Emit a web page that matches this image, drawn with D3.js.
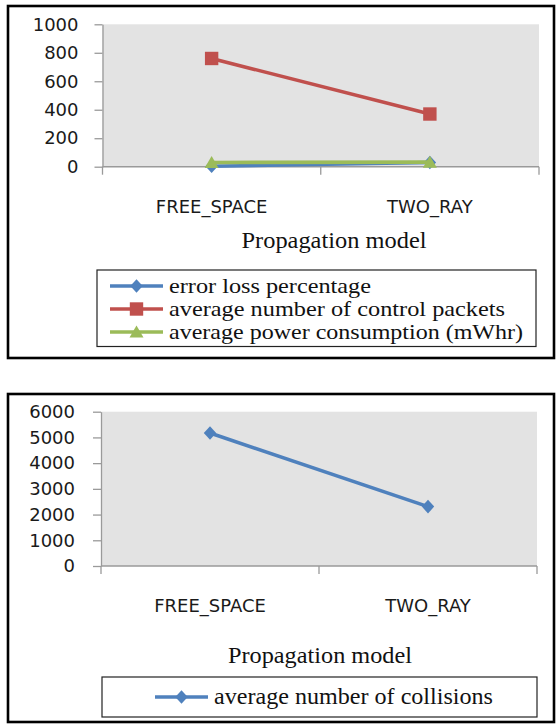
<!DOCTYPE html>
<html>
<head>
<meta charset="utf-8">
<script src="https://cdn.jsdelivr.net/npm/d3@7"></script>
<style>
  html, body { margin: 0; padding: 0; background: #fff; }
  svg { display: block; }
</style>
</head>
<body>
<svg id="chart" width="556" height="724"></svg>
<script>
// ---- data ----
const categories = ["FREE_SPACE", "TWO_RAY"];
const errorLoss = [3, 30];
const controlPackets = [760, 370];
const powerConsumption = [30, 32];
const collisions = [5170, 2310];
const yTicksTop = [0, 200, 400, 600, 800, 1000];
const yTicksBottom = [0, 1000, 2000, 3000, 4000, 5000, 6000];
const xAxisTitle = "Propagation model";
const seriesTopNames = ["error loss percentage", "average number of control packets", "average power consumption (mWhr)"];
const seriesBottomNames = ["average number of collisions"];

const colors = { blue: "#4f81bd", red: "#c0504d", green: "#9bbb59" };

const svg = d3.select("#chart");

// custom marker shapes
const diamond = { draw(ctx, size) { const w = 6.2, h = 6.8; ctx.moveTo(0, -h); ctx.lineTo(w, 0); ctx.lineTo(0, h); ctx.lineTo(-w, 0); ctx.closePath(); } };
const square = { draw(ctx, size) { const s = 6.7; ctx.rect(-s, -s, 2 * s, 2 * s); } };
const triangle = { draw(ctx, size) { const w = 7, h = 6.5; ctx.moveTo(0, -h); ctx.lineTo(w, h * 0.85); ctx.lineTo(-w, h * 0.85); ctx.closePath(); } };

function drawChart(cfg) {
  const g = svg.append("g");
  // outer frame
  g.append("rect").attr("x", cfg.box[0]).attr("y", cfg.box[1])
    .attr("width", cfg.box[2] - cfg.box[0]).attr("height", cfg.box[3] - cfg.box[1])
    .attr("fill", "none").attr("stroke", "#000").attr("stroke-width", 2.6);

  const x = d3.scaleBand().domain(categories).range([cfg.left, cfg.right]);
  const y = d3.scaleLinear().domain([0, cfg.yMax]).range([cfg.bottom, cfg.top]);

  // plot background
  g.append("rect").attr("x", cfg.left).attr("y", cfg.top)
    .attr("width", cfg.right - cfg.left).attr("height", cfg.bottom - cfg.top)
    .attr("fill", "#e3e3e3");

  // y axis
  const ya = g.append("g").attr("transform", `translate(${cfg.left},0)`)
    .call(d3.axisLeft(y).tickValues(cfg.yTicks).tickSize(8).tickSizeOuter(0).tickPadding(cfg.yPad).tickFormat(d3.format("d")));
  ya.selectAll("line, path").attr("stroke", "#9a9a9a").attr("stroke-width", 1.3);
  ya.selectAll("text").attr("font-family", "DejaVu Sans, sans-serif").attr("font-size", 18).attr("fill", "#1a1a1a");

  // x axis line + boundary ticks
  g.append("line").attr("x1", cfg.left).attr("x2", cfg.right).attr("y1", cfg.bottom).attr("y2", cfg.bottom)
    .attr("stroke", "#9a9a9a").attr("stroke-width", 1.6);
  const bounds = categories.map(c => x(c)).concat([x.range()[1]]);
  g.selectAll(".xb").data(bounds).enter().append("line")
    .attr("x1", d => d).attr("x2", d => d).attr("y1", cfg.bottom).attr("y2", cfg.bottom + 8)
    .attr("stroke", "#9a9a9a").attr("stroke-width", 1.3);
  g.selectAll(".xl").data(categories).enter().append("text")
    .attr("x", d => x(d) + x.bandwidth() / 2).attr("y", cfg.xLabelY)
    .attr("text-anchor", "middle")
    .attr("font-family", "DejaVu Sans, sans-serif").attr("font-size", 18).attr("fill", "#1a1a1a")
    .text(d => d);

  // axis title
  g.append("text").attr("x", cfg.titleX).attr("y", cfg.titleY).attr("text-anchor", "middle")
    .attr("font-family", "Liberation Serif, Times New Roman, serif").attr("font-size", 23).attr("fill", "#111")
    .attr("textLength", cfg.titleW).attr("lengthAdjust", "spacingAndGlyphs")
    .text(xAxisTitle);

  // series
  cfg.series.forEach(s => {
    const line = d3.line().x((d, i) => x(categories[i]) + x.bandwidth() / 2).y(d => y(d));
    g.append("path").datum(s.values).attr("d", line).attr("fill", "none")
      .attr("stroke", s.color).attr("stroke-width", 3.6);
    g.selectAll(null).data(s.values).enter().append("path")
      .attr("transform", (d, i) => `translate(${x(categories[i]) + x.bandwidth() / 2},${y(d)})`)
      .attr("d", d3.symbol().type(s.shape)())
      .attr("fill", s.color);
  });

  // legend
  const L = cfg.legend;
  g.append("rect").attr("x", L.box[0]).attr("y", L.box[1]).attr("width", L.box[2] - L.box[0]).attr("height", L.box[3] - L.box[1])
    .attr("fill", "#fff").attr("stroke", "#222").attr("stroke-width", 1.2);
  cfg.series.forEach((s, i) => {
    const cy = L.rows[i];
    g.append("line").attr("x1", L.lineX[0]).attr("x2", L.lineX[1]).attr("y1", cy).attr("y2", cy)
      .attr("stroke", s.color).attr("stroke-width", 3.6);
    g.append("path").attr("transform", `translate(${(L.lineX[0] + L.lineX[1]) / 2},${cy})`)
      .attr("d", d3.symbol().type(s.shape)()).attr("fill", s.color);
    g.append("text").attr("x", L.textX).attr("y", cy + 7)
      .attr("font-family", "Liberation Serif, Times New Roman, serif").attr("font-size", L.fs).attr("fill", "#111")
      .attr("textLength", L.textW[i]).attr("lengthAdjust", "spacingAndGlyphs")
      .text(s.name);
  });
}

drawChart({
  box: [8, 6, 554, 358],
  left: 102.5, right: 539, top: 24.3, bottom: 166.7,
  yMax: 1000, yTicks: yTicksTop, yPad: 16,
  xLabelY: 213, titleX: 334, titleY: 248, titleW: 185,
  series: [
    { name: seriesTopNames[0], values: errorLoss, color: colors.blue, shape: diamond },
    { name: seriesTopNames[1], values: controlPackets, color: colors.red, shape: square },
    { name: seriesTopNames[2], values: powerConsumption, color: colors.green, shape: triangle }
  ],
  legend: { box: [97, 270, 536, 346.5], rows: [286, 309, 332], lineX: [110, 163], textX: 169, textW: [202, 336, 354], fs: 21 }
});

drawChart({
  box: [8, 394, 554, 722],
  left: 101, right: 537, top: 411.7, bottom: 566,
  yMax: 6000, yTicks: yTicksBottom, yPad: 18,
  xLabelY: 612, titleX: 320, titleY: 663, titleW: 184,
  series: [
    { name: seriesBottomNames[0], values: collisions, color: colors.blue, shape: diamond }
  ],
  legend: { box: [102, 677, 537, 717], rows: [697], lineX: [155, 208], textX: 214, textW: [279], fs: 24 }
});
</script>
</body>
</html>
